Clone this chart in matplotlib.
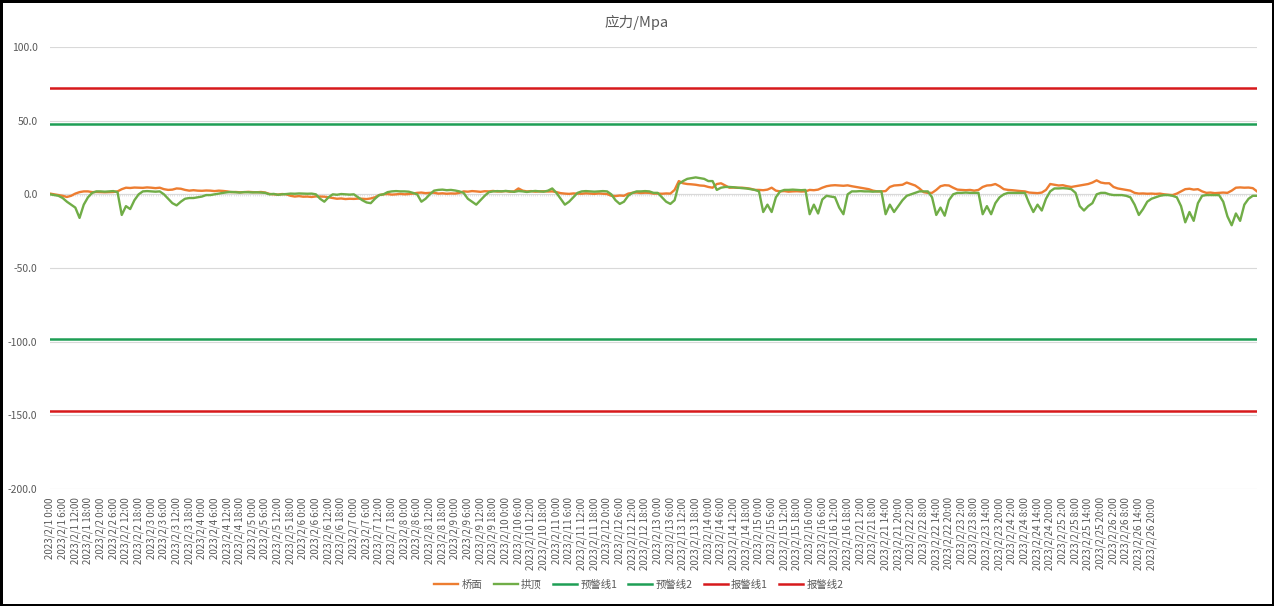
import matplotlib
matplotlib.use('Agg')
import matplotlib.pyplot as plt
import numpy as np
from matplotlib.ticker import FormatStrFormatter

# 应力数据 (每2小时一个点)
qiaomian = [
    0.5, 0, -0.5, -1, -1.8, -1, 0.5, 1.5, 2, 2, 1.5, 1.6,
    1.5, 1.4, 1.5, 1.6, 2, 3.5, 4.5, 4.3, 4.6, 4.5, 4.4, 4.7,
    4.5, 4.2, 4.5, 3.5, 3, 3.2, 4, 3.8, 3, 2.5, 2.8, 2.5,
    2.4, 2.6, 2.5, 2.2, 2.5, 2.3, 2, 1.5, 1.6, 1.4, 1.5, 1.7,
    1.5, 1.4, 1.6, 1.2, 0.3, 0, -0.2, 0.2, 0, -1, -1.5, -1.2,
    -1.6, -1.5, -1.8, -1.4, -1.5, -1.6, -2, -2.5, -3, -2.8, -3.2, -3,
    -3.1, -2.9, -3, -3.2, -2.8, -2, -0.5, 0, 0.2, -0.2, 0, 0.3,
    0, 0.2, 0.5, 1, 1.2, 0.8, 1, 1.1, 0.5, 0.7, 0.4, 0.6,
    0.5, 1, 2, 1.8, 2.2, 2, 1.7, 2.1, 2, 2.3, 1.9, 2,
    2.2, 1.8, 2, 4, 2.5, 2, 2.2, 1.8, 2, 2.1, 1.9, 2,
    1.5, 0.8, 0.5, 0.3, 0.6, 0.5, 0.4, 0.7, 0.5, 0.3, 0.6, 0.4,
    0.2, -1, -1.2, -0.8, -1, 0.5, 1, 1.2, 0.9, 1.1, 1, 0.5,
    0.5, 0.4, 0.6, 0.5, 3, 9, 7.5, 7, 6.8, 6.5, 6, 5.8,
    5, 4.5, 7, 7.5, 6, 4.5, 4.6, 4.4, 4.5, 4.2, 3.8, 3,
    3, 2.8, 3.2, 4.5, 2.5, 2, 2.2, 1.8, 2, 2.1, 1.9, 2,
    3, 2.8, 3.2, 4.5, 5.5, 6, 6.2, 6, 5.8, 6.1, 5.5, 5,
    4.5, 4, 3.5, 2.5, 2, 2, 2.2, 5, 6, 6.2, 6.5, 8,
    7, 6, 4, 1.5, 1, 1, 3, 5.5, 6.2, 6, 4.5, 3.2,
    3, 2.8, 3, 2.5, 3, 5, 6, 6.2, 7, 5.5, 3.5, 3,
    2.8, 2.5, 2.2, 2, 1.2, 1, 0.8, 1.2, 3, 7, 6.5, 6,
    6.2, 5.5, 5, 5.5, 6, 6.5, 7, 8, 9.5, 8, 7.5, 7.5,
    5, 4, 3.5, 3, 2.5, 1, 0.5, 0.6, 0.4, 0.5, 0.3, 0.5,
    0, -0.3, -0.5, 0.5, 2, 3.5, 3.8, 3.2, 3.5, 2, 1, 1.2,
    0.8, 1, 1.2, 1, 2.5, 4.5, 4.7, 4.5, 4.6, 4.2, 2,
]

gongding = [
    0, -0.5, -1, -2.5, -5, -7, -9, -16, -7, -2, 1, 2,
    2, 1.8, 2, 2.2, 1.5, -14, -8, -10, -4, 0, 2, 2.2,
    2, 1.8, 2, 0, -3, -6, -7.5, -5, -3, -2.5, -2.5, -2,
    -1.5, -0.5, -0.5, 0, 0.5, 1, 1.4, 1.6, 1.4, 1.2, 1.5, 1.4,
    1.3, 1.4, 1.2, 1, 0, 0.3, -0.3, 0, 0.2, 0.5, 0.4, 0.6,
    0.5, 0.4, 0.5, 0, -3, -5, -2, 0, -0.3, 0.2, 0, -0.2,
    0, -2, -4, -5.5, -6, -3, -0.5, 0, 1.5, 2, 2.2, 2,
    2, 1.8, 1, 0, -5, -3, 0, 2.5, 3, 3.2, 2.8, 3,
    2.6, 2, 1, -3, -5, -7, -4, -1, 1.5, 2, 2.2, 2,
    2.3, 2, 1.7, 2.2, 2, 1.6, 2, 2.3, 2, 1.8, 2.5, 4,
    1, -3, -7, -5, -2, 1, 2, 2.2, 2, 1.8, 2, 2.2,
    2, 0, -4, -6.5, -5, -1, 1, 2, 2, 2.2, 2, 1,
    1, -2, -5, -6.5, -4, 7, 9, 10.5, 11, 11.5, 11, 10.5,
    9, 9, 3, 4.5, 5, 5, 4.8, 4.5, 4.2, 4, 3.5, 3,
    2, -12, -7, -12, -2, 2, 3, 3, 3.2, 3, 2.8, 3,
    -13.5, -7, -13, -3.5, -1, -1.5, -2, -9, -13.5, 0, 2, 2,
    2.2, 2, 2, 1.8, 2, 2, -13.5, -7, -12, -8, -4, -1,
    0, 1, 2, 2, 2, -2, -14, -9, -14.5, -4, 0, 1,
    1, 1.2, 1, 1, 1, -13.5, -8, -13.5, -6, -2, 0, 1,
    1, 1, 1, 1, -6, -12, -7, -11, -3, 2, 4, 4,
    4.2, 4, 3.5, 1, -8, -11, -8, -6, 0, 1, 1, 0,
    -0.5, -0.5, -0.5, -1, -2, -7, -14, -10, -5, -3, -2, -1,
    -0.5, -0.5, -1, -2, -8, -19, -12, -18, -6, -1, -0.5, -0.5,
    -0.5, -0.5, -5, -15, -21, -13, -18, -7, -3, -1, -1,
]

# 预警线 / 报警线
yujing1 = 48
yujing2 = -98
baojing1 = 72
baojing2 = -147

# 横轴标签 (每6小时)
days_a = list(range(1, 17))
hours_a = [0, 6, 12, 18]
days_b = list(range(21, 27))
hours_b = [2, 8, 14, 20]
tick_labels = ['2023/2/%d %d:00' % (d, h) for d in days_a for h in hours_a] + \
              ['2023/2/%d %d:00' % (d, h) for d in days_b for h in hours_b]
yticks = [-200, -150, -100, -50, 0, 50, 100]

plt.rcParams['font.family'] = ['Noto Sans CJK SC', 'DejaVu Sans']

N = len(qiaomian)
x = np.arange(N)

fig = plt.figure(figsize=(12.74, 6.06), dpi=100)
fig.patch.set_edgecolor('black')
fig.patch.set_linewidth(2.5)
ax = fig.add_axes([50 / 1274, 1 - 489 / 606, 1207 / 1274, 442 / 606])

for sp in ax.spines.values():
    sp.set_visible(False)

ax.set_ylim(-200, 100)
ax.set_yticks(yticks)
ax.yaxis.set_major_formatter(FormatStrFormatter('%.1f'))
ax.grid(axis='y', color='#D9D9D9', lw=0.8)
ax.set_axisbelow(True)
ax.tick_params(axis='y', length=0, pad=9, labelsize=7.5, labelcolor='#595959')

ax.set_xlim(0, N - 1)
ax.set_xticks(x[:len(tick_labels) * 3:3])
ax.set_xticklabels(tick_labels, rotation=90, fontsize=7, color='#595959')
ax.tick_params(axis='x', length=0, pad=6)

# category axis at zero with small ticks
ax.axhline(0, color='#D9D9D9', lw=0.8, zorder=1)
ax.vlines(np.arange(0, N - 0.9, 0.5), -1.4, 0, color='#D9D9D9', lw=0.5, zorder=1)

ax.plot(x, qiaomian, color='#ED7D31', lw=1.7, label='桥面', zorder=3)
ax.plot(x, gongding, color='#70AD47', lw=1.7, label='拱顶', zorder=3)
ax.plot(x, [yujing1] * N, color='#1E9E55', lw=1.8, label='预警线1', zorder=3)
ax.plot(x, [yujing2] * N, color='#1E9E55', lw=1.8, label='预警线2', zorder=3)
ax.plot(x, [baojing1] * N, color='#D7191C', lw=1.8, label='报警线1', zorder=3)
ax.plot(x, [baojing2] * N, color='#D7191C', lw=1.8, label='报警线2', zorder=3)

fig.text(0.5, 1 - 22 / 606, '应力/Mpa', ha='center', va='center', fontsize=10.5, color='#595959')

leg = fig.legend(loc='center', bbox_to_anchor=(639 / 1274, 1 - 585 / 606), ncol=6, frameon=False,
                 fontsize=7.5, handlelength=2.3, columnspacing=1.1, handletextpad=0.3)
for t in leg.get_texts():
    t.set_color('#595959')

fig.savefig('out.png', dpi=100)
